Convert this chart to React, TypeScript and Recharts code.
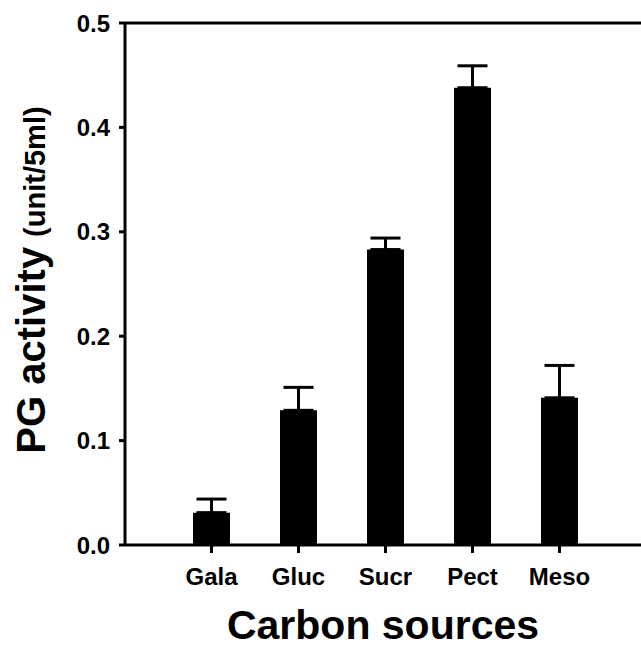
import { BarChart, Bar, XAxis, YAxis, ErrorBar, ReferenceLine, Label } from 'recharts';

const categories = ['Gala', 'Gluc', 'Sucr', 'Pect', 'Meso'];
const activity = [0.031, 0.129, 0.283, 0.438, 0.141];
const errors = [0.013, 0.022, 0.011, 0.021, 0.031];
const yTicks = [0, 0.1, 0.2, 0.3, 0.4, 0.5];

const data = categories.map((name, i) => ({
  name,
  value: activity[i],
  err: [0, errors[i]],
}));

const font = '"Liberation Sans", Arial, Helvetica, sans-serif';

// rotated y title: big "PG activity" + smaller "(unit/5ml)"
function YTitle() {
  const cx = 45;
  const cy = 280;
  return (
    <text
      x={cx}
      y={cy}
      transform={`rotate(-90, ${cx}, ${cy})`}
      textAnchor="middle"
      fontFamily={font}
      fontWeight="bold"
      fill="#000"
    >
      <tspan fontSize={40}>PG activity</tspan>
      <tspan fontSize={29} dx={10}>(unit/5ml)</tspan>
    </text>
  );
}

export default function App() {
  return (
    <div style={{ position: 'absolute', left: 0, top: 0, background: '#fff' }}>
      <BarChart
        width={641}
        height={649}
        data={data}
        margin={{ top: 23, right: 0, left: 0, bottom: 0 }}
      >
        <XAxis
          dataKey="name"
          height={104}
          padding={{ left: 43, right: 38 }}
          axisLine={{ stroke: '#000', strokeWidth: 3 }}
          tickLine={{ stroke: '#000', strokeWidth: 3 }}
          tickSize={8}
          tickMargin={15}
          tick={{ fill: '#000', fontSize: 24, fontWeight: 'bold', fontFamily: font }}
        >
          <Label
            value="Carbon sources"
            position="insideBottom"
            offset={10}
            fill="#000"
            fontSize={41}
            fontWeight="bold"
            fontFamily={font}
          />
        </XAxis>
        <YAxis
          width={125}
          domain={[0, 0.5]}
          ticks={yTicks}
          tickFormatter={(v: number) => v.toFixed(1)}
          axisLine={{ stroke: '#000', strokeWidth: 3 }}
          tickLine={{ stroke: '#000', strokeWidth: 3 }}
          tickSize={6}
          tickMargin={9}
          tick={{ fill: '#000', fontSize: 24, fontWeight: 'bold', fontFamily: font }}
        >
          <Label content={<YTitle />} />
        </YAxis>
        <ReferenceLine y={0.5} stroke="#000" strokeWidth={3} />
        <Bar dataKey="value" fill="#000" barSize={37} isAnimationActive={false}>
          <ErrorBar dataKey="err" direction="y" width={15} stroke="#000" strokeWidth={3} />
        </Bar>
      </BarChart>
    </div>
  );
}
